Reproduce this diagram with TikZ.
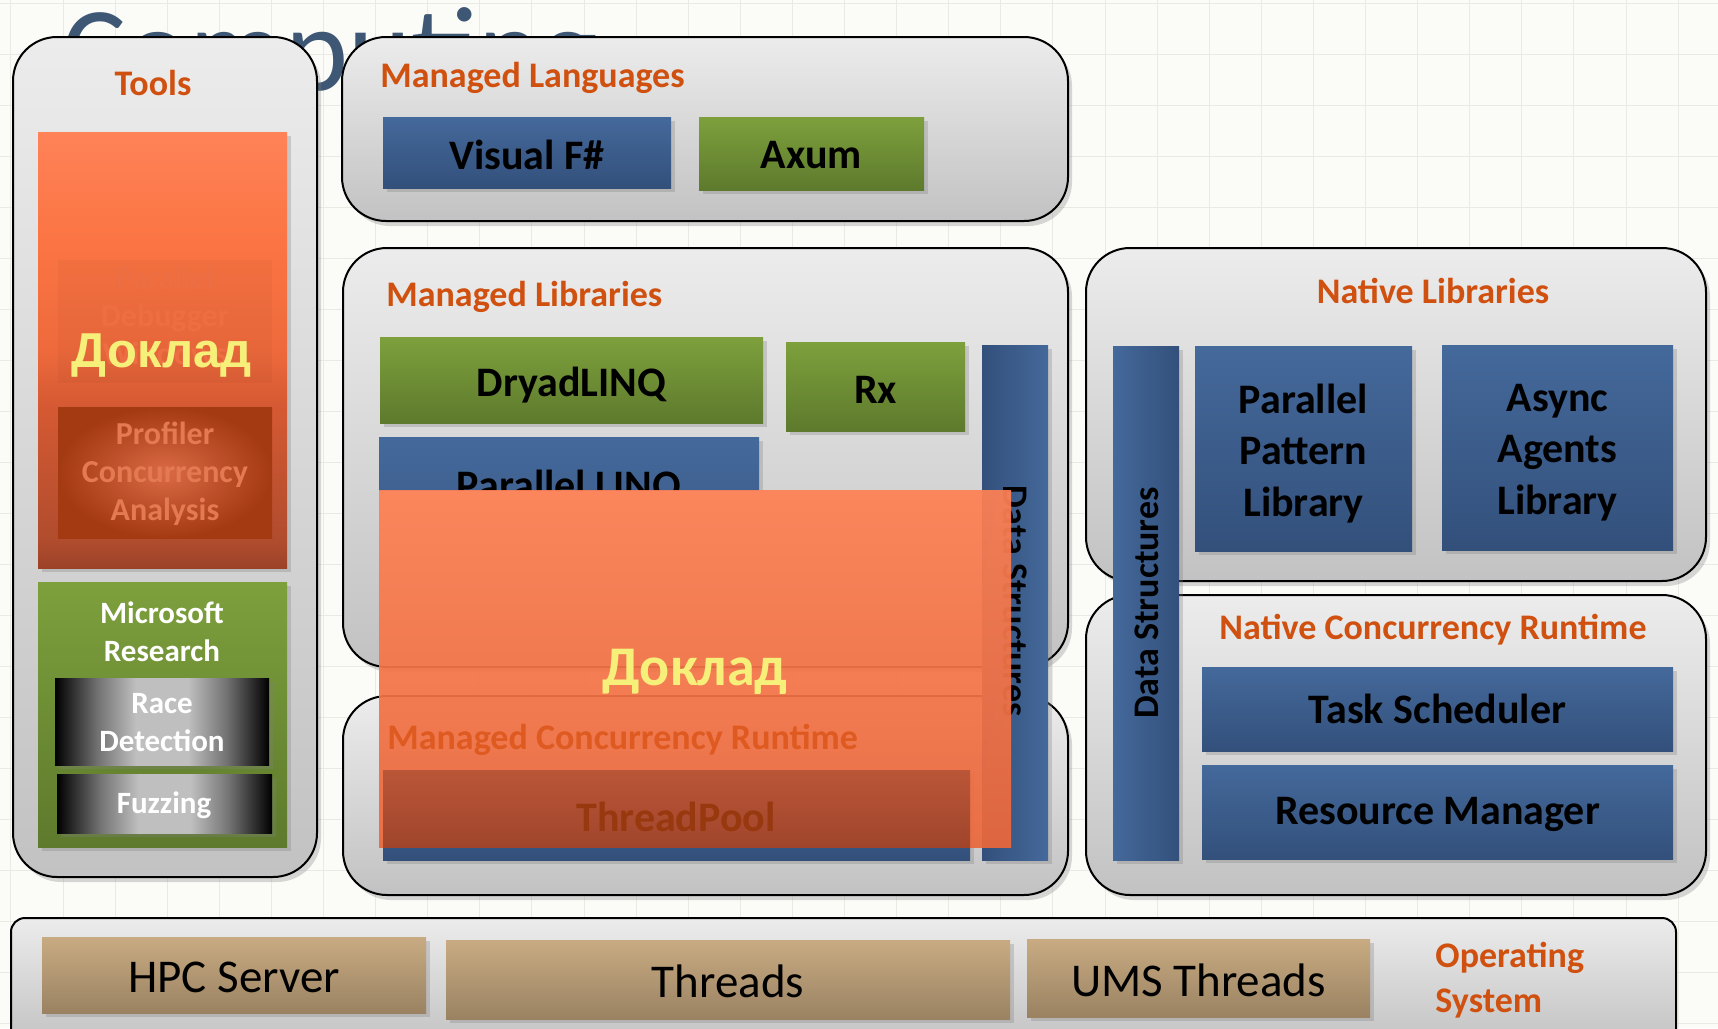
\documentclass[tikz,border=0pt]{standalone}
\usepackage{fontspec}
\setmainfont{Carlito}
\newfontfamily\arialfont{Liberation Sans}
\usetikzlibrary{shadows,fit}
\definecolor{bgC}{HTML}{FBFBF7}
\definecolor{gridC}{HTML}{EAEAE5}
\definecolor{compC}{HTML}{3E5775}
\definecolor{boxT}{HTML}{ECECEC}
\definecolor{boxB}{HTML}{C2C2C2}
\definecolor{titleC}{HTML}{D0500F}
\definecolor{blueT}{HTML}{44699B}
\definecolor{blueB}{HTML}{33507B}
\definecolor{greenT}{HTML}{7DA03C}
\definecolor{greenB}{HTML}{5E7A2D}
\definecolor{tanT}{HTML}{C8AB82}
\definecolor{tanB}{HTML}{9A8262}
\definecolor{doklC}{HTML}{F6F07A}
\definecolor{ovA}{HTML}{9C4228}
\definecolor{ovB}{HTML}{B04C2E}
\definecolor{ovC}{HTML}{D65A33}
\definecolor{ovD}{HTML}{EE6A3C}
\definecolor{ovE}{HTML}{FB7443}
\definecolor{ovF}{HTML}{FF8258}
\definecolor{moT}{HTML}{FF8154}
\definecolor{moM}{HTML}{F6703E}
\definecolor{moB}{HTML}{EA683C}
\definecolor{ghostT}{HTML}{EC6E42}
\definecolor{profIn}{HTML}{DA6A45}
\definecolor{profOut}{HTML}{A43A12}
\definecolor{profT}{HTML}{E47A52}
\definecolor{tpT}{HTML}{BA5638}
\definecolor{tpB}{HTML}{A0452B}
\definecolor{tpText}{HTML}{98380F}
\definecolor{mcrC}{HTML}{DE5A20}
\colorlet{raceA}{black}
\colorlet{raceB}{black!55}
\colorlet{raceC}{black!25}
\pgfdeclareverticalshading{leftov}{100bp}{color(0bp)=(ovA); color(25bp)=(ovA); color(28bp)=(ovB); color(44bp)=(ovC); color(50bp)=(ovD); color(62bp)=(ovE); color(75bp)=(ovF); color(100bp)=(ovF)}
\pgfdeclarehorizontalshading{racesh}{100bp}{color(0bp)=(raceA); color(25bp)=(raceA); color(35bp)=(raceB); color(44bp)=(raceC); color(56bp)=(raceC); color(65bp)=(raceB); color(75bp)=(raceA); color(100bp)=(raceA)}
\begin{document}
\begin{tikzpicture}[x=0.5pt,y=-0.5pt,
  every node/.style={inner sep=0pt},
  shad/.style={drop shadow={opacity=0.3,shadow xshift=2pt,shadow yshift=-2pt}},
  bigbox/.style={draw=black, line width=1pt, rounded corners=22pt, top color=boxT, bottom color=boxB, drop shadow={opacity=0.3,shadow xshift=2pt,shadow yshift=-2.5pt}},
  osbox/.style={draw=black, line width=1pt, rounded corners=7pt, top color=boxT, bottom color=boxB},
  ttl/.style={text=titleC, font=\bfseries\fontsize{18}{22}\selectfont},
  lbl/.style={font=\bfseries\fontsize{21}{25.75}\selectfont, text=black, align=center},
  bluebox/.style={top color=blueT, bottom color=blueB, shad},
  greenbox/.style={top color=greenT, bottom color=greenB, shad},
  tanbox/.style={top color=tanT, bottom color=tanB, shad},
  tantext/.style={font=\fontsize{23.5}{28}\selectfont, text=black},
  small/.style={font=\bfseries\fontsize{16}{19}\selectfont, align=center},
  wtext/.style={font=\bfseries\fontsize{15.5}{19}\selectfont, text=white, align=center},
  dstext/.style={font=\bfseries\fontsize{18}{22}\selectfont, text=black}
]
\useasboundingbox (0,0) rectangle (1718,1028);
\clip (0,0) rectangle (1718,1028);
\fill[bgC] (0,0) rectangle (1718,1028);
\foreach \i in {0,...,33} \draw[gridC, line width=0.5pt] ({10.9+52.1*\i},0) -- ++(0,1028);
\foreach \i in {0,...,20} \draw[gridC, line width=0.5pt] (0,{3+51*\i}) -- ++(1718,0);

\node[font=\fontsize{60}{70}\selectfont, text=compC, anchor=base west] (comp) at (62,90) {Computing};

% Tools
\node[bigbox, fit={(13,37)(317,877)}] (tools) {};
\node[ttl, anchor=mid] (toolsT) at (153,91) {Tools};
\node[shade, shading=leftov, fit={(38,132)(287,568)}, shad] (lov) {};
\node[fill=black, fill opacity=0.03, fit={(58,260)(272,383)}] (dbg) {};
\node[small, text=ghostT] (dbgT) at (165,315) {Parallel\\Debugger\\Windows};
\node[inner color=profIn, outer color=profOut, fit={(58,407)(272,538)}] (prof) {};
\node[small, text=profT] (profTx) at (165,474) {Profiler\\Concurrency\\Analysis};
\node[font=\arialfont\bfseries\fontsize{24.5}{29}\selectfont, text=doklC] (dokl1) at (162,356) {Доклад};
\node[greenbox, fit={(38,582)(287,847)}] (msr) {};
\node[wtext] (msrT) at (162,632) {Microsoft\\Research};
\node[shade, shading=racesh, fit={(55,678)(269,765)}, shad] (race) {};
\node[wtext] (raceT) at (162,723) {Race\\Detection};
\node[shade, shading=racesh, fit={(57,774)(272,833)}, shad] (fuzz) {};
\node[wtext] (fuzzT) at (164,805) {Fuzzing};

% Managed Languages
\node[bigbox, fit={(342,37)(1068,221)}] (ml) {};
\node[ttl, anchor=mid west] (mlT) at (380,83) {Managed Languages};
\node[bluebox, fit={(383,117)(671,188)}] (fsharp) {};
\node[lbl] (fsharpT) at ([yshift=-1pt]fsharp.center) {Visual F\#};
\node[greenbox, fit={(699,117)(924,190)}] (axum) {};
\node[lbl] (axumT) at ([yshift=-1pt]axum.center) {Axum};

% Managed Libraries
\node[bigbox, fit={(343,248)(1068,667)}] (mlib) {};
\node[ttl, anchor=mid west] (mlibT) at (386,302) {Managed Libraries};
\node[greenbox, fit={(380,337)(763,423)}] (dryad) {};
\node[lbl] (dryadT) at ([yshift=-2.5pt]dryad.center) {DryadLINQ};
\node[greenbox, fit={(786,342)(965,431)}] (rx) {};
\node[lbl] (rxT) at ([yshift=-1.5pt]rx.center) {Rx};
\begin{scope}
\clip (0,0) rectangle (1718,490);
\node[bluebox, fit={(379,437)(759,632)}] (plinq) {};
\node[lbl] (plinqT) at (569,487) {Parallel LINQ};
\end{scope}

% Managed Concurrency Runtime
\node[bigbox, fit={(343,696)(1068,895)}] (mcr) {};
\node[top color=blueT, bottom color=blueB, fit={(383,770)(970,860)}, shad] (tp) {};

% Managed data structures bar
\node[left color=blueB, right color=blueT, fit={(982,345)(1048,860)}, shad] (mds) {};
\node[dstext, rotate=-90] (mdsT) at (1015,601) {Data Structures};

% Middle overlay
\node[top color=moT, middle color=moM, bottom color=moB, opacity=0.93, fit={(379,490)(1011,847)}] (mov) {};
\node[ttl, text=mcrC, anchor=mid west] (mcrT) at (387,745) {Managed Concurrency Runtime};
\node[top color=tpT, bottom color=tpB, fit={(383,770)(970,847)}] (tpg) {};
\node[lbl, text=tpText] (tpT) at (676,817) {ThreadPool};
\node[font=\bfseries\fontsize{28}{33}\selectfont, text=doklC] (dokl2) at (695,672) {Доклад};

% Native Libraries
\node[bigbox, fit={(1086,248)(1706,581)}] (nl) {};
\node[ttl, anchor=mid] (nlT) at (1433,299) {Native Libraries};
\node[bluebox, fit={(1195,346)(1412,551)}] (ppl) {};
\node[lbl] (pplT) at ([yshift=-2.5pt]ppl.center) {Parallel\\Pattern\\Library};
\node[bluebox, fit={(1442,345)(1673,550)}] (aal) {};
\node[lbl] (aalT) at ([yshift=-2.5pt]aal.center) {Async\\Agents\\Library};

% Native Concurrency Runtime
\node[bigbox, fit={(1086,595)(1706,895)}] (ncr) {};
\node[ttl, anchor=mid] (ncrT) at (1433,635) {Native Concurrency Runtime};
\node[bluebox, fit={(1202,667)(1673,751)}] (ts) {};
\node[lbl] (tsT) at (ts.center) {Task Scheduler};
\node[bluebox, fit={(1202,765)(1673,859)}] (rm) {};
\node[lbl] (rmT) at ([yshift=-1pt]rm.center) {Resource Manager};
\node[left color=blueT, right color=blueB, fit={(1113,346)(1179,860)}, shad] (nds) {};
\node[dstext, rotate=90] (ndsT) at (1147,603) {Data Structures};

% Operating System
\node[osbox, fit={(11,918)(1676,1045)}] (os) {};
\node[tanbox, fit={(42,937)(426,1013)}] (hpc) {};
\node[tantext] (hpcT) at ([yshift=-1pt]hpc.center) {HPC Server};
\node[tanbox, fit={(446,940)(1010,1019)}] (thr) {};
\node[tantext] (thrT) at ([yshift=-1pt]thr.center) {Threads};
\node[tanbox, fit={(1027,939)(1370,1017)}] (ums) {};
\node[tantext] (umsT) at ([yshift=-1pt]ums.center) {UMS Threads};
\node[ttl, align=left, anchor=west, font=\bfseries\fontsize{18}{22.5}\selectfont] (osT) at (1435,980) {Operating\\System};
\end{tikzpicture}
\end{document}
